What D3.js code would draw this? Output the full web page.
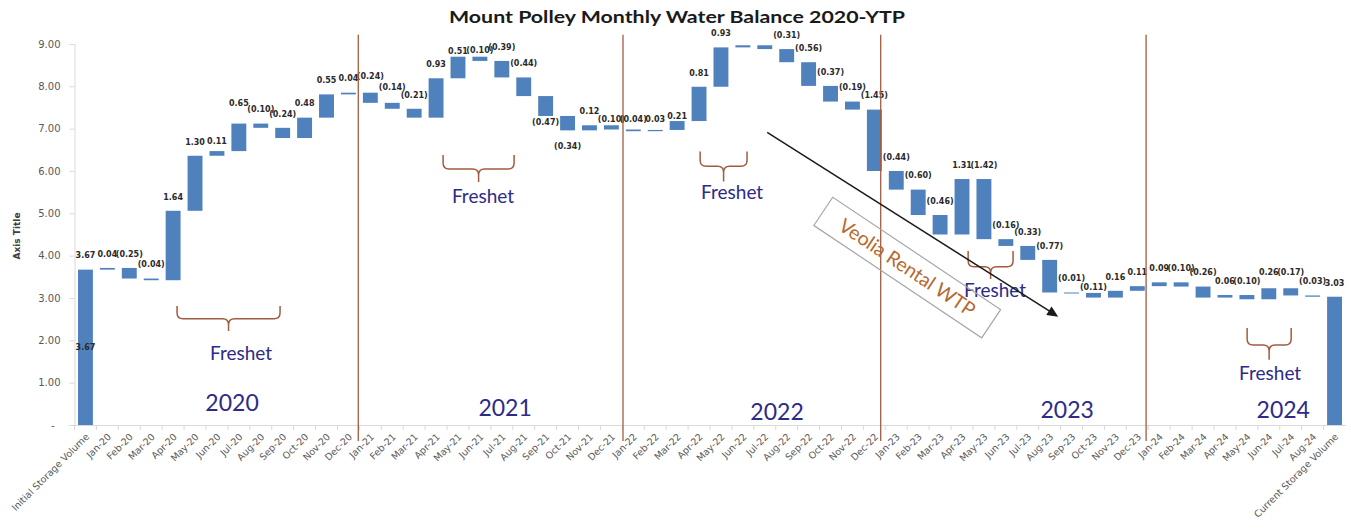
<!DOCTYPE html>
<html><head><meta charset="utf-8">
<script src="https://cdn.jsdelivr.net/npm/d3@7"></script>
<style>body{margin:0;background:#fff}svg{display:block}</style>
</head><body>
<svg id="chart" width="1351" height="529"></svg>
<script>
// ---------------- DATA ----------------
const categories = ["Initial Storage Volume",
 "Jan-20","Feb-20","Mar-20","Apr-20","May-20","Jun-20","Jul-20","Aug-20","Sep-20","Oct-20","Nov-20","Dec-20",
 "Jan-21","Feb-21","Mar-21","Apr-21","May-21","Jun-21","Jul-21","Aug-21","Sep-21","Oct-21","Nov-21","Dec-21",
 "Jan-22","Feb-22","Mar-22","Apr-22","May-22","Jun-22","Jul-22","Aug-22","Sep-22","Oct-22","Nov-22","Dec-22",
 "Jan-23","Feb-23","Mar-23","Apr-23","May-23","Jun-23","Jul-23","Aug-23","Sep-23","Oct-23","Nov-23","Dec-23",
 "Jan-24","Feb-24","Mar-24","Apr-24","May-24","Jun-24","Jul-24","Aug-24",
 "Current Storage Volume"];
const initialVolume = 3.67;
const monthlyChange = [
  0.04,-0.25,-0.04, 1.64, 1.30, 0.11, 0.65,-0.10,-0.24, 0.48, 0.55, 0.04,   // 2020
 -0.24,-0.14,-0.21, 0.93, 0.51,-0.10,-0.39,-0.44,-0.47,-0.34, 0.12,-0.10,   // 2021
 -0.04, 0.03, 0.21, 0.81, 0.93, 0.05,-0.09,-0.31,-0.56,-0.37,-0.19,-1.45,   // 2022
 -0.44,-0.60,-0.46, 1.31,-1.42,-0.16,-0.33,-0.77,-0.01,-0.11, 0.16, 0.11,   // 2023
  0.09,-0.10,-0.26, 0.06,-0.10, 0.26,-0.17,-0.03                            // 2024
];
const currentVolume = 3.03;
const yTicks = [0,1,2,3,4,5,6,7,8,9];
const hiddenLabels = ["Jun-22","Jul-22"];
const titleText = "Mount Polley Monthly Water Balance 2020-YTP";
const yAxisTitle = "Axis Title";
const yearLabels = ["2020","2021","2022","2023","2024"];
const yearLabelPos = [[7.19,0.52],[19.65,0.41],[32.06,0.31],[45.3,0.36],[55.16,0.36]]; // [category position, value]
const yearDividers = [12.95, 25.03, 36.79, 48.9];  // category positions
const freshetText = "Freshet";
// [x start, x end (category positions), top, mid, tip values, text x, text y]
const freshetBraces = [
 [4.68, 9.38, 2.81, 2.51, 2.22, 7.6, 1.70],
 [16.82,20.06,6.38, 6.05, 5.74, 18.64,5.40],
 [28.55,30.69,6.46, 6.11, 5.75, 30.01,5.50],
 [40.78,42.83,4.11, 3.74, 3.45, 42.01,3.19],
 [53.51,55.52,2.29, 1.89, 1.54, 54.56,1.23]
];
const veoliaText = "Veolia Rental WTP";
const veoliaBox = [38.0, 3.72];          // centre (category position, value)
const trendArrow = [[31.61, 6.91],[44.89, 2.56]];

// ---------------- STYLE ----------------
const barColor = "#4F81BD", brown = "#a25b3e", navy = "#2e2a88";
const labelShift = {"Jun-20":4.5,"Jul-20":-6,"Jan-21":-2,"Feb-21":-2,"May-21":8,"Jun-21":7,
  "Dec-21":8,"Jan-22":3.5,"Feb-22":3,"Mar-22":9,"Oct-23":8,"Jun-24":-2,"Jul-24":-2};
const labelBelow = {"Sep-21":6,"Oct-21":16};

const svg = d3.select("#chart");
const x = d3.scaleBand().domain(categories).range([74.5,1345.5]).paddingInner(0.32).paddingOuter(0.16);
const y = d3.scaleLinear().domain([0,9]).range([425,44]);
const step = x.step();
const kx = k => x.range()[0] + k*step;

// waterfall rows
const rows = [];
let cum = initialVolume;
rows.push({cat:categories[0], lo:0, hi:initialVolume, value:initialVolume});
monthlyChange.forEach((v,i)=>{ const s=cum, e=cum+v; cum=e;
  rows.push({cat:categories[i+1], lo:Math.min(s,e), hi:Math.max(s,e), value:v}); });
rows.push({cat:categories[categories.length-1], lo:0, hi:currentVolume, value:currentVolume});
const fmt = v => v<0 ? `(${Math.abs(v).toFixed(2)})` : v.toFixed(2);

// title
svg.append("text").attr("x",677).attr("y",23).attr("text-anchor","middle")
  .attr("font-family","Lato, sans-serif").attr("font-weight","bold").attr("font-size",17)
  .attr("fill","#1a1a1a").attr("textLength",456).attr("lengthAdjust","spacingAndGlyphs").text(titleText);

// y axis
const yAxis = svg.append("g").attr("transform","translate(74.5,0)")
  .call(d3.axisLeft(y).tickValues(yTicks).tickSize(5).tickPadding(9)
    .tickFormat(d => d===0 ? "-" : d.toFixed(2)));
yAxis.select(".domain").attr("stroke","#d9d9d9");
yAxis.selectAll(".tick line").attr("stroke","#d9d9d9");
yAxis.selectAll(".tick text").attr("fill","#595959").attr("font-family","DejaVu Sans, sans-serif").attr("font-size",10);
yAxis.selectAll(".tick text").filter(d=>d===0).attr("dx",-6);
svg.append("text").attr("transform","translate(20,236) rotate(-90)").attr("text-anchor","middle")
  .attr("font-family","DejaVu Sans, sans-serif").attr("font-weight","bold").attr("font-size",9)
  .attr("fill","#404040").text(yAxisTitle);

// x axis
const xAxis = svg.append("g").attr("transform","translate(0,425)")
  .call(d3.axisBottom(x).tickSize(0).tickSizeOuter(0));
xAxis.select(".domain").attr("stroke","#d9d9d9");
xAxis.selectAll(".tick text").attr("x",0).attr("y",0).attr("dy","0.35em")
  .attr("transform","translate(2,10) rotate(-45)").attr("text-anchor","end")
  .attr("fill","#595959").attr("font-family","DejaVu Sans, sans-serif").attr("font-size",9.5);
svg.append("g").selectAll("line").data(d3.range(categories.length)).join("line")
  .attr("x1",i=>kx(i)).attr("x2",i=>kx(i)).attr("y1",425).attr("y2",430)
  .attr("stroke","#d9d9d9");

// bars
svg.append("g").selectAll("rect").data(rows).join("rect")
  .attr("x",d=>x(d.cat)).attr("width",x.bandwidth())
  .attr("y",d=>y(d.hi)).attr("height",d=>Math.max(y(d.lo)-y(d.hi),1))
  .attr("fill",barColor);

// data labels
const lab = svg.append("g").attr("font-family","DejaVu Sans, sans-serif").attr("font-weight","bold")
  .attr("font-size",8).attr("fill","#2a2a2a").attr("text-anchor","middle");
lab.selectAll("text").data(rows.filter(d=>!hiddenLabels.includes(d.cat))).join("text")
  .attr("x",d=>x(d.cat)+x.bandwidth()/2)
  .attr("y",d=> d.cat in labelBelow ? y(d.lo)+labelBelow[d.cat] : y(d.hi)-14+(labelShift[d.cat]||0))
  .attr("dy","0.35em").text(d=>fmt(d.value));
lab.append("text").attr("x",x(categories[0])+x.bandwidth()/2).attr("y",y(initialVolume/2))
  .attr("dy","0.35em").text(fmt(initialVolume));

// year dividers
svg.append("g").selectAll("line").data(yearDividers).join("line")
  .attr("x1",kx).attr("x2",kx).attr("y1",y(9.22)).attr("y2",y(-0.38))
  .attr("stroke",brown).attr("stroke-width",1.3);

// year labels
svg.append("g").selectAll("text").data(yearLabels).join("text")
  .attr("x",(d,i)=>kx(yearLabelPos[i][0])).attr("y",(d,i)=>y(yearLabelPos[i][1]))
  .attr("dy","0.35em").attr("text-anchor","middle").attr("font-family","Lato, sans-serif")
  .attr("font-size",23).attr("fill",navy).text(d=>d);

// freshet braces
const bracePath = b => {
  const x0=kx(b[0]), x1=kx(b[1]), xc=(x0+x1)/2, yt=y(b[2]), ym=y(b[3]), yp=y(b[4]), r=6;
  return `M${x0},${yt} L${x0},${ym-r} Q${x0},${ym} ${x0+r},${ym} L${xc-r},${ym} Q${xc},${ym} ${xc},${ym+r} L${xc},${yp}`+
         ` M${xc},${ym+r} Q${xc},${ym} ${xc+r},${ym} L${x1-r},${ym} Q${x1},${ym} ${x1},${ym-r} L${x1},${yt}`;
};
const fg = svg.append("g");
fg.selectAll("path").data(freshetBraces).join("path").attr("d",bracePath)
  .attr("fill","none").attr("stroke",brown).attr("stroke-width",1.5);
fg.selectAll("text").data(freshetBraces).join("text")
  .attr("x",b=>kx(b[5])).attr("y",b=>y(b[6])).attr("dy","0.35em").attr("text-anchor","middle")
  .attr("font-family","Lato, sans-serif").attr("font-size",19).attr("fill",navy).text(freshetText);

// trend arrow
const ax0=kx(trendArrow[0][0]), ay0=y(trendArrow[0][1]), ax1=kx(trendArrow[1][0]), ay1=y(trendArrow[1][1]);
const ang = Math.atan2(ay1-ay0, ax1-ax0), L=11, Wd=5;
svg.append("line").attr("x1",ax0).attr("y1",ay0).attr("x2",ax1-Math.cos(ang)*L*0.8).attr("y2",ay1-Math.sin(ang)*L*0.8)
  .attr("stroke","#1a1a1a").attr("stroke-width",1.5);
const bx=ax1-Math.cos(ang)*L, by=ay1-Math.sin(ang)*L;
svg.append("path").attr("d",`M${ax1},${ay1} L${bx-Math.sin(ang)*Wd},${by+Math.cos(ang)*Wd} L${bx+Math.sin(ang)*Wd},${by-Math.cos(ang)*Wd} Z`)
  .attr("fill","#1a1a1a");

// Veolia box
const vb = svg.append("g").attr("transform",`translate(${kx(veoliaBox[0])},${y(veoliaBox[1])}) rotate(33.8)`);
vb.append("rect").attr("x",-101).attr("y",-17).attr("width",202).attr("height",34)
  .attr("fill","none").attr("stroke","#a6a6a6").attr("stroke-width",1.2);
vb.append("text").attr("text-anchor","middle").attr("dy","0.35em").attr("font-family","Lato, sans-serif")
  .attr("font-size",19.5).attr("fill","#b5692e").text(veoliaText);
</script>
</body></html>
